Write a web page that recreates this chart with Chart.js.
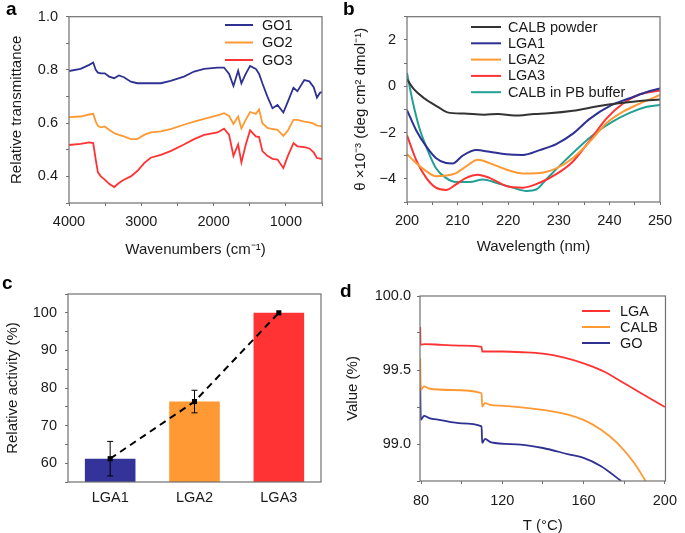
<!DOCTYPE html>
<html><head><meta charset="utf-8">
<script src="https://cdn.jsdelivr.net/npm/chart.js@4.4.1/dist/chart.umd.min.js"></script>
<style>
html,body{margin:0;padding:0;background:#fff}
body{width:685px;height:533px;overflow:hidden;position:relative;font-family:'Liberation Sans',Arial,Helvetica,sans-serif}
canvas{position:absolute}
.lbl{position:absolute;font-weight:bold;font-size:19px;line-height:19px;color:#000}
</style></head><body>
<canvas id="ca" width="340" height="270" style="left:0;top:0"></canvas>
<canvas id="cb" width="345" height="270" style="left:340px;top:0"></canvas>
<canvas id="cc" width="340" height="263" style="left:0;top:270px"></canvas>
<canvas id="cd" width="345" height="263" style="left:340px;top:270px"></canvas>
<div class="lbl" style="left:6px;top:-1px">a</div>
<div class="lbl" style="left:343px;top:-1px">b</div>
<div class="lbl" style="left:2px;top:273px">c</div>
<div class="lbl" style="left:340px;top:281px">d</div>
<script>
// ---------- Panel a : FTIR ----------
const waveNumbers = [4000,3840,3720,3665,3630,3600,3560,3505,3445,3375,3310,3240,3145,3055,2960,2870,2730,2595,2410,2270,2130,1945,1855,1785,1725,1660,1615,1555,1495,1415,1370,1325,1255,1185,1115,1035,975,895,840,745,675,615,570,525,500];
const go1Trans = [0.796,0.804,0.819,0.828,0.80,0.79,0.787,0.787,0.775,0.769,0.779,0.7725,0.756,0.75,0.75,0.75,0.75,0.759,0.775,0.794,0.804,0.809,0.809,0.785,0.74,0.797,0.75,0.785,0.815,0.804,0.785,0.75,0.70,0.656,0.668,0.64,0.679,0.733,0.72,0.762,0.757,0.735,0.696,0.715,0.717];
const go2Trans = [0.6225,0.625,0.6325,0.635,0.606,0.59,0.584,0.5875,0.575,0.5625,0.556,0.55,0.54,0.54,0.556,0.565,0.569,0.5775,0.594,0.606,0.616,0.629,0.6375,0.627,0.597,0.625,0.58,0.6125,0.642,0.635,0.652,0.60,0.5825,0.578,0.575,0.5525,0.571,0.6125,0.6125,0.606,0.603,0.598,0.591,0.59,0.588];
const go3Trans = [0.518,0.522,0.528,0.525,0.4625,0.415,0.40,0.388,0.372,0.36,0.375,0.3875,0.40,0.42,0.45,0.47,0.481,0.495,0.52,0.54,0.556,0.565,0.579,0.556,0.477,0.52,0.4525,0.519,0.573,0.55,0.5475,0.495,0.477,0.466,0.463,0.431,0.475,0.525,0.513,0.51,0.505,0.49,0.469,0.467,0.465];
const aXTicks = [4000,3500,3000,2500,2000,1500,1000,500];
const aXLabels = [4000,3000,2000,1000];
const aYTicks = [0.3,0.4,0.5,0.6,0.7,0.8,0.9,1.0];
const aYLabels = [0.4,0.6,0.8,1.0];

// ---------- Panel b : CD spectra ----------
const calbPowderWl = [200,201.4,203.4,206.1,208,211.3,215.3,218,221.2,225.2,228,232.8,237.4,241.4,246,250];
const calbPowderTheta = [0.3,-0.14,-0.52,-0.89,-1.13,-1.18,-1.23,-1.2,-1.27,-1.2,-1.17,-1.06,-0.88,-0.75,-0.64,-0.58];
const lga1Wl = [200,201.8,203.8,205.7,207.7,209,211,213.7,216.3,219.6,222.9,226.2,229.5,232.8,236.1,240.4,244,247,250];
const lga1Theta = [-1.03,-1.9,-2.6,-3.1,-3.32,-3.34,-3.0,-2.76,-2.83,-2.94,-2.97,-2.76,-2.5,-2.05,-1.41,-0.82,-0.52,-0.28,-0.1];
const lga23Wl = [200,201.8,203.8,205.7,207.7,209.7,211.7,214,216.3,219.6,222.9,226.2,229.5,232.8,236.1,239.4,242.7,246,250];
const lga2Theta = [-2.93,-3.32,-3.67,-3.89,-3.86,-3.75,-3.46,-3.18,-3.32,-3.6,-3.77,-3.75,-3.55,-3.1,-2.4,-1.6,-1.1,-0.75,-0.38];
const lga3Theta = [-2.12,-3.18,-3.96,-4.38,-4.48,-4.24,-3.96,-3.82,-3.96,-4.31,-4.38,-4.17,-3.8,-3.25,-2.35,-1.4,-0.75,-0.35,-0.18];
const calbPbWl = [200,201.1,202.4,203.8,205.7,207.7,209.7,212.4,215,217.6,220.9,223.6,225.6,227.5,230.8,234.1,237.4,240.7,244,247.4,250];
const calbPbTheta = [0.57,-0.64,-1.77,-2.61,-3.53,-3.96,-4.14,-4.14,-4.03,-4.17,-4.38,-4.52,-4.45,-4.03,-3.3,-2.61,-2.0,-1.52,-1.15,-0.89,-0.81];
const bXTicks = [200,205,210,215,220,225,230,235,240,245,250];
const bXLabels = [200,210,220,230,240,250];
const bYTicks = [-5,-4,-3,-2,-1,0,1,2,3];
const bYLabels = [-4,-2,0,2];

// ---------- Panel c : relative activity ----------
const activityLabels = ['LGA1','LGA2','LGA3'];
const activityMean = [61.2,76.4,100];
const activityErr = [4.6,3.0,0];
const cYTicks = [55,60,65,70,75,80,85,90,95,100,105];
const cYLabels = [60,70,80,90,100];

// ---------- Panel d : TGA ----------
const lgaT = [79.6,79.8,82,90,100,109.8,110.1,120,130,140,150,160,170,180,190,200];
const lgaVal = [99.79,99.67,99.675,99.67,99.665,99.657,99.625,99.625,99.62,99.61,99.585,99.545,99.49,99.41,99.33,99.25];
const calbT = [79.6,79.9,81.5,84,95,109.8,110.1,111.5,114,121,140,152.7,160,168.6,176.5,185,190.5];
const calbVal = [99.58,99.365,99.39,99.375,99.365,99.343,99.253,99.276,99.265,99.258,99.23,99.197,99.163,99.096,99.007,98.87,98.75];
const goT = [79.6,79.9,81.5,84,89,100,109.8,110.1,111.5,114.5,129,140,152.7,160,168.6,178.5];
const goVal = [99.40,99.163,99.19,99.175,99.163,99.14,99.119,99.007,99.034,99.011,98.996,98.973,98.93,98.906,98.85,98.75];
const dXTicks = [80,100,120,140,160,180,200];
const dXLabels = [80,120,160,200];
const dYTicks = [98.75,99,99.25,99.5,99.75,100];
const dYLabels = [99,99.5,100];

// ---------- styling ----------
const FONT = "'Liberation Sans', Arial, Helvetica, sans-serif";
Chart.defaults.font.family = FONT;
Chart.defaults.color = '#1a1a1a';
Chart.defaults.animation = false;
const AXIS = '#707070';
const BLUE = '#2e3192', ORANGE = '#ff9933', RED = '#ff3333', TEAL = '#22a096', BLACK = '#333333';

const zip = (xs, ys) => xs.map((x, i) => ({x, y: ys[i]}));
const has = (arr, v) => arr.some(l => Math.abs(l - v) < 1e-9);
const minus = s => String(s).replace('-', '\u2212');

function linScale(o) {
  return {
    type: 'linear', position: o.pos, min: o.min, max: o.max, reverse: !!o.reverse,
    afterBuildTicks: s => { s.ticks = o.ticks.map(v => ({value: v})); },
    afterFit: s => { if (o.pos === 'left') s.width = o.size; else s.height = o.size; },
    ticks: {autoSkip: false, maxRotation: 0, padding: o.pad, font: {size: o.fs || 14.5},
      callback: v => has(o.labels, v) ? minus(o.fmt ? o.fmt(v) : v) : ''},
    grid: {drawOnChartArea: false, drawTicks: true, tickLength: 3, color: AXIS, tickColor: AXIS},
    border: {display: false},
    title: {display: !!o.title, text: o.title, font: {size: 15, lineHeight: o.tlh || 1.2}, padding: o.tpad || 0}
  };
}

const framePlugin = {
  id: 'frame',
  afterDraw(c) {
    const {ctx, chartArea: a} = c;
    ctx.save();
    ctx.strokeStyle = AXIS; ctx.lineWidth = 1.2;
    ctx.strokeRect(a.left, a.top, a.right - a.left, a.bottom - a.top);
    ctx.restore();
  }
};
const legendPlugin = {
  id: 'lineLegend',
  afterDraw(c, args, o) {
    if (!o || o.x0 === undefined) return;
    const ctx = c.ctx;
    ctx.save();
    ctx.font = `14.5px ${FONT}`;
    ctx.textBaseline = 'middle';
    c.data.datasets.forEach((ds, i) => {
      const y = o.y0 + i * o.dy;
      ctx.strokeStyle = ds.borderColor; ctx.lineWidth = 2;
      ctx.beginPath(); ctx.moveTo(o.x0, y); ctx.lineTo(o.x1, y); ctx.stroke();
      ctx.fillStyle = '#1a1a1a';
      ctx.fillText(ds.label, o.tx, y + 0.5);
    });
    ctx.restore();
  }
};
const lineDs = (label, data, color, w) => ({label, data, borderColor: color, backgroundColor: color,
  borderWidth: w || 1.8, pointRadius: 0, fill: false, tension: 0});
const base = (pad, legendOpts) => ({
  responsive: false, animation: false,
  layout: {padding: pad},
  plugins: {legend: {display: false}, tooltip: {enabled: false}, lineLegend: legendOpts || {}},
});

// ---------- chart a ----------
new Chart(document.getElementById('ca'), {
  type: 'line',
  data: {datasets: [
    lineDs('GO1', zip(waveNumbers, go1Trans), BLUE),
    lineDs('GO2', zip(waveNumbers, go2Trans), ORANGE),
    lineDs('GO3', zip(waveNumbers, go3Trans), RED)
  ]},
  options: Object.assign(base({top: 15, right: 18, left: 0, bottom: 0}, {x0: 225, x1: 253, tx: 262, y0: 25, dy: 17.5}), {
    scales: {
      x: linScale({pos: 'bottom', min: 500, max: 4000, reverse: true, ticks: aXTicks, labels: aXLabels, size: 67, pad: 7,
        title: 'Wavenumbers (cm\u207B\u00B9)', tpad: {bottom: 11}}),
      y: linScale({pos: 'left', min: 0.3, max: 1.0, ticks: aYTicks, labels: aYLabels, size: 69, pad: 8,
        fmt: v => v.toFixed(1), title: 'Relative transmittance', tpad: {top: 8}})
    }
  }),
  plugins: [framePlugin, legendPlugin]
});

// ---------- chart b ----------
new Chart(document.getElementById('cb'), {
  type: 'line',
  data: {datasets: [
    lineDs('CALB powder', zip(calbPowderWl, calbPowderTheta), BLACK, 2),
    lineDs('LGA1', zip(lga1Wl, lga1Theta), BLUE, 2),
    lineDs('LGA2', zip(lga23Wl, lga2Theta), ORANGE, 2),
    lineDs('LGA3', zip(lga23Wl, lga3Theta), RED, 2),
    lineDs('CALB in PB buffer', zip(calbPbWl, calbPbTheta), TEAL, 2)
  ].map(d => Object.assign(d, {cubicInterpolationMode: 'monotone'}))},
  options: Object.assign(base({top: 15, right: 25, left: 0, bottom: 0}, {x0: 131, x1: 161, tx: 168, y0: 27, dy: 16.3}), {
    scales: {
      x: linScale({pos: 'bottom', min: 200, max: 250, ticks: bXTicks, labels: bXLabels, size: 68, pad: 7,
        title: 'Wavelength (nm)', tpad: {bottom: 14}}),
      y: linScale({pos: 'left', min: -5, max: 3, ticks: bYTicks, labels: bYLabels, size: 67, pad: 8,
        title: '\u03B8 \u00D710\u207B\u00B3 (deg cm\u00B2 dmol\u207B\u00B9)', tpad: {top: 12}})
    }
  }),
  plugins: [framePlugin, legendPlugin]
});

// ---------- chart c ----------
const errPlugin = {
  id: 'errBars',
  afterDatasetsDraw(c) {
    const {ctx} = c, xs = c.scales.x, ys = c.scales.y;
    ctx.save();
    ctx.strokeStyle = '#000'; ctx.lineWidth = 1;
    activityMean.forEach((m, i) => {
      const e = activityErr[i];
      if (!e) return;
      const px = xs.getPixelForValue(i), t = ys.getPixelForValue(m + e), b = ys.getPixelForValue(m - e);
      ctx.beginPath();
      ctx.moveTo(px, t); ctx.lineTo(px, b);
      ctx.moveTo(px - 3, t); ctx.lineTo(px + 3, t);
      ctx.moveTo(px - 3, b); ctx.lineTo(px + 3, b);
      ctx.stroke();
    });
    ctx.restore();
  }
};
new Chart(document.getElementById('cc'), {
  type: 'bar',
  data: {labels: activityLabels, datasets: [
    {type: 'line', label: 'trend', data: activityMean, borderColor: '#000', backgroundColor: '#000', borderWidth: 2,
     borderDash: [7, 5], pointStyle: 'rect', pointRadius: 3.6, pointBackgroundColor: '#000', pointBorderWidth: 0, tension: 0, order: 0},
    {type: 'bar', label: 'activity', data: activityMean, backgroundColor: [ '#333399', ORANGE, RED ], borderWidth: 0,
     barPercentage: 0.6, categoryPercentage: 1, order: 1}
  ]},
  options: Object.assign(base({top: 24, right: 19, left: 0, bottom: 0}), {
    scales: {
      x: {type: 'category', position: 'bottom', offset: true,
        afterFit: s => { s.height = 51; },
        ticks: {padding: 7, font: {size: 14.5}},
        grid: {display: false, drawTicks: false}, border: {display: false}},
      y: linScale({pos: 'left', min: 55, max: 105, ticks: cYTicks, labels: cYLabels, size: 68, pad: 8,
        title: 'Relative activity (%)', tpad: {top: 4}})
    }
  }),
  plugins: [errPlugin, framePlugin]
});

// ---------- chart d ----------
new Chart(document.getElementById('cd'), {
  type: 'line',
  data: {datasets: [
    lineDs('LGA', zip(lgaT, lgaVal), RED),
    lineDs('CALB', zip(calbT, calbVal), ORANGE),
    lineDs('GO', zip(goT, goVal), BLUE)
  ].map(d => Object.assign(d, {cubicInterpolationMode: 'monotone'}))},
  options: Object.assign(base({top: 26, right: 12, left: 0, bottom: 0}, {x0: 242, x1: 270, tx: 280, y0: 41, dy: 16}), {
    scales: {
      x: linScale({pos: 'bottom', min: 79.5, max: 200.3, ticks: dXTicks, labels: dXLabels, size: 52, pad: 8,
        title: 'T (\u00B0C)', tlh: 1, tpad: {bottom: 0}}),
      y: linScale({pos: 'left', min: 98.75, max: 100, ticks: dYTicks, labels: dYLabels, size: 80, pad: 6,
        fmt: v => v.toFixed(1), title: 'Value (%)', tpad: {top: 4}})
    }
  }),
  plugins: [framePlugin, legendPlugin]
});
</script>
</body></html>
